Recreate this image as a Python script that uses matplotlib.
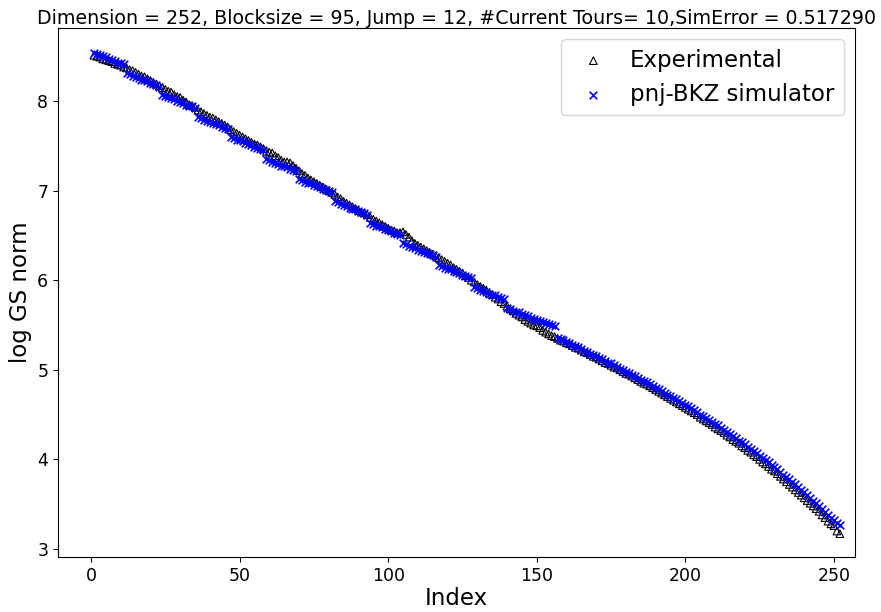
import matplotlib
matplotlib.use("Agg")
import matplotlib.pyplot as plt

# Log Gram-Schmidt norms per basis index after 10 tours of pnj-BKZ
index = list(range(1, 253))

experimental = [
    8.51, 8.50, 8.49, 8.47, 8.46, 8.45, 8.44, 8.42, 8.41, 8.40, 8.38, 8.37,
    8.35, 8.34, 8.32, 8.30, 8.28, 8.27, 8.25, 8.23, 8.21, 8.19, 8.17, 8.15,
    8.13, 8.11, 8.10, 8.07, 8.05, 8.04, 8.01, 7.99, 7.96, 7.95, 7.93, 7.90,
    7.88, 7.86, 7.84, 7.82, 7.81, 7.79, 7.77, 7.75, 7.73, 7.71, 7.68,
    7.66, 7.64, 7.62, 7.60, 7.58, 7.56, 7.54, 7.52, 7.51, 7.49, 7.47, 7.44,
    7.43, 7.42, 7.39, 7.37, 7.34, 7.32, 7.32, 7.31, 7.28, 7.25, 7.22,
    7.19, 7.17, 7.14, 7.12, 7.10, 7.08, 7.06, 7.04, 7.02, 7.00, 6.98, 6.96,
    6.93, 6.91, 6.88, 6.86, 6.84, 6.82, 6.80, 6.78, 6.76, 6.75, 6.73, 6.70,
    6.68, 6.66, 6.64, 6.62, 6.60, 6.58, 6.56, 6.55, 6.53, 6.53, 6.54, 6.51, 6.48, 6.44, 6.41,
    6.39, 6.37, 6.35, 6.33, 6.31, 6.29, 6.27, 6.25,
    6.23, 6.21, 6.19, 6.17, 6.14, 6.12, 6.10, 6.08, 6.05, 6.03, 6.00, 5.98,
    5.95, 5.93, 5.91, 5.89, 5.86, 5.84, 5.81, 5.79, 5.76, 5.74, 5.71,
    5.68, 5.66, 5.63, 5.61, 5.59, 5.56, 5.54, 5.52, 5.50, 5.49, 5.47,
    5.44, 5.42, 5.40, 5.38, 5.37, 5.35, 5.33, 5.32, 5.30, 5.29,
    5.27, 5.25, 5.24, 5.22, 5.20, 5.19, 5.17, 5.15, 5.14, 5.12,
    5.10, 5.08, 5.07, 5.05, 5.03, 5.02, 5.00, 4.98, 4.96, 4.95,
    4.93, 4.91, 4.89, 4.87, 4.85, 4.84, 4.82, 4.80, 4.78, 4.76,
    4.74, 4.72, 4.70, 4.68, 4.66, 4.64, 4.62, 4.60, 4.58, 4.56,
    4.54, 4.52, 4.50, 4.47, 4.45, 4.43, 4.41, 4.39, 4.36, 4.34,
    4.32, 4.30, 4.27, 4.25, 4.22, 4.20, 4.18, 4.15, 4.13, 4.10,
    4.08, 4.05, 4.03, 4.00, 3.97, 3.95, 3.92, 3.89, 3.87, 3.84,
    3.81, 3.78, 3.75, 3.72, 3.69, 3.66, 3.63, 3.60, 3.57, 3.54,
    3.51, 3.48, 3.45, 3.42, 3.38, 3.35, 3.31, 3.28, 3.26, 3.20,
    3.17,
]

simulator = [
    8.54, 8.53, 8.51, 8.50, 8.49, 8.47, 8.46, 8.45, 8.43, 8.42, 8.41,
    8.31, 8.30, 8.28, 8.27, 8.26, 8.24, 8.23, 8.22, 8.20, 8.19, 8.18, 8.16,
    8.07, 8.06, 8.04, 8.03, 8.02, 8.00, 7.99, 7.98, 7.96, 7.95, 7.94, 7.92,
    7.82, 7.81, 7.79, 7.78, 7.77, 7.75, 7.74, 7.73, 7.71, 7.70, 7.69,
    7.60, 7.59, 7.57, 7.56, 7.55, 7.53, 7.52, 7.51, 7.49, 7.48, 7.47, 7.45,
    7.35, 7.34, 7.32, 7.31, 7.30, 7.28, 7.27, 7.26, 7.24, 7.23, 7.22,
    7.13, 7.12, 7.10, 7.09, 7.08, 7.06, 7.05, 7.04, 7.02, 7.01, 7.00, 6.98,
    6.88, 6.87, 6.85, 6.84, 6.83, 6.81, 6.80, 6.79, 6.77, 6.76, 6.75, 6.73,
    6.64, 6.63, 6.61, 6.60, 6.59, 6.57, 6.56, 6.55, 6.53, 6.52, 6.51,
    6.41, 6.40, 6.38, 6.37, 6.36, 6.34, 6.33, 6.32, 6.30, 6.29, 6.28, 6.26,
    6.17, 6.16, 6.14, 6.13, 6.12, 6.10, 6.09, 6.08, 6.06, 6.05, 6.04, 6.02,
    5.92, 5.91, 5.89, 5.88, 5.87, 5.85, 5.84, 5.83, 5.81, 5.80, 5.79,
    5.69, 5.68, 5.66, 5.65, 5.64, 5.62, 5.61, 5.60, 5.58, 5.57, 5.56, 5.54,
    5.53, 5.52, 5.51, 5.50, 5.49,
    5.36, 5.34, 5.33, 5.31, 5.30,
    5.28, 5.26, 5.25, 5.23, 5.21, 5.20, 5.18, 5.17, 5.15, 5.13,
    5.12, 5.10, 5.08, 5.07, 5.05, 5.03, 5.01, 5.00, 4.98, 4.96,
    4.94, 4.93, 4.91, 4.89, 4.87, 4.86, 4.84, 4.82, 4.80, 4.78,
    4.76, 4.74, 4.72, 4.71, 4.69, 4.67, 4.65, 4.63, 4.61, 4.59,
    4.57, 4.55, 4.53, 4.50, 4.48, 4.46, 4.44, 4.42, 4.40, 4.38,
    4.35, 4.33, 4.31, 4.28, 4.26, 4.24, 4.21, 4.19, 4.17, 4.14,
    4.12, 4.09, 4.07, 4.04, 4.02, 3.99, 3.97, 3.94, 3.91, 3.89,
    3.86, 3.83, 3.80, 3.78, 3.75, 3.72, 3.69, 3.66, 3.63, 3.60,
    3.57, 3.54, 3.51, 3.48, 3.45, 3.41, 3.38, 3.35, 3.32, 3.29,
    3.27,
]

title = ("Dimension = 252, Blocksize = 95, Jump = 12, "
         "#Current Tours= 10,SimError = 0.517290")

fig = plt.figure(figsize=(8.81, 6.12), dpi=100)
ax = fig.add_axes([0.0658, 0.0899, 0.9047, 0.8643])

ax.scatter(index, experimental, marker="^", s=30, facecolors="none",
           edgecolors="black", linewidths=0.8, label="Experimental")
ax.scatter(index, simulator, marker="x", s=30, color="blue",
           linewidths=1.2, label="pnj-BKZ simulator")

ax.set_xlim(-11.1, 257.1)
ax.set_ylim(2.91, 8.815)
ax.set_xticks([0, 50, 100, 150, 200, 250])
ax.set_yticks([3, 4, 5, 6, 7, 8])
ax.tick_params(labelsize=12.5)

ax.set_xlabel("Index", fontsize=16.5, labelpad=2)
ax.set_ylabel("log GS norm", fontsize=16.5, labelpad=4)
ax.set_title(title, fontsize=13.7, pad=3)
ax.legend(loc="upper right", fontsize=16.5, scatterpoints=1,
          handletextpad=0.6, borderpad=0.4)

fig.savefig("out.png", dpi=100)
